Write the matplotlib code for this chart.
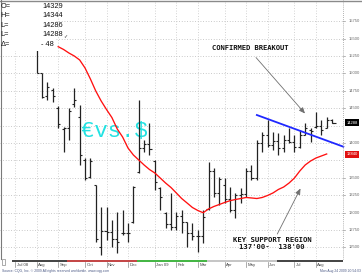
import matplotlib
matplotlib.use("Agg")
import matplotlib.pyplot as plt
from matplotlib.patches import Rectangle
from matplotlib.lines import Line2D

W, H = 362, 273

# ---------------- data (weekly EUR/USD x 10000) ----------------
bar_idx = list(range(-6, 56))
opens = [15550, 15780, 15610, 15950, 15830, 15700,
         15590, 15000, 14680, 14760, 14500, 14200, 14210, 14560, 14374, 13760,
         13510, 13390, 12500, 12740, 12725, 12620, 12700, 12710, 12860, 13580,
         13930, 13980, 13740, 13350, 12990, 12840, 12800, 12950, 12860, 12700,
         12670, 12660, 13050, 13600, 13280, 13400, 13200, 13030, 13250, 13270,
         13600, 13500, 14000, 14120, 13970, 14030, 13930, 14050, 14020, 13940,
         14120, 14180, 14230, 14240, 14220, 14329]
highs = [15800, 15900, 15980, 16040, 15860, 15720,
         15600, 15010, 14877, 14790, 14532, 14230, 14503, 14790, 14546, 13784,
         13784, 13396, 13080, 13080, 12893, 13008, 13037, 12850, 13382, 14618,
         14043, 14287, 13756, 13368, 13008, 13282, 13008, 13037, 12865, 12850,
         12750, 13037, 13727, 13641, 13511, 13497, 13368, 13282, 13353, 13641,
         13684, 14043, 14158, 14330, 14158, 14144, 14115, 14216, 14115, 14187,
         14287, 14216, 14445, 14330, 14374, 14344]
lows = [15520, 15620, 15600, 15770, 15650, 15510,
        15006, 14647, 14618, 14589, 14216, 13871, 14043, 14517, 13684, 13468,
        13497, 12577, 12390, 12606, 12506, 12420, 12678, 12577, 12850, 13569,
        13871, 13828, 13325, 13037, 12778, 12750, 12750, 12707, 12506, 12606,
        12434, 12563, 13037, 13224, 13109, 13138, 13008, 12922, 13138, 13224,
        13468, 13468, 13871, 13943, 13900, 13828, 13871, 14000, 13871, 13928,
        14115, 14014, 14216, 14115, 14216, 14286]
closes = [15780, 15610, 15950, 15830, 15700, 15590,
          15010, 14665, 14800, 14670, 14270, 14210, 14460, 14620, 13828, 13497,
          13740, 12620, 12740, 12725, 12620, 12580, 12707, 12700, 13370, 13930,
          13980, 13920, 13440, 13230, 12840, 12800, 12950, 12860, 12700, 12670,
          12660, 12930, 13600, 13280, 13480, 13200, 13030, 13250, 13270, 13600,
          13500, 14000, 14120, 13970, 14030, 13930, 14050, 14020, 13940, 14120,
          14220, 14170, 14240, 14190, 14330, 14288]

ma_idx = list(range(4, 55))
ma_vals = [15384, 15344, 15293, 15250, 15193, 15078, 14920, 14747, 14604, 14481,
           14366, 14201, 14086, 13928, 13828, 13756, 13684, 13619, 13569, 13497,
           13425, 13361, 13282, 13202, 13138, 13073, 13030, 12998, 13052, 13088,
           13116, 13145, 13171, 13188, 13202, 13217, 13210, 13202, 13217, 13246,
           13282, 13332, 13368, 13425, 13497, 13598, 13684, 13741, 13784, 13813,
           13842]

trend_idx = [41, 57.1]
trend_vals = [14402, 13947]

month_labels = ['Jul 08', 'Aug', 'Sep', 'Oct', 'Nov', 'Dec', 'Jan 09', 'Feb',
                'Mar', 'Apr', 'May', 'Jun', 'Jul', 'Aug']
month_bars = [-4, 0, 4, 9, 13, 17, 22, 26, 30, 35, 39, 43, 48, 52]

price_ticks = [12500, 12750, 13000, 13250, 13500, 14000, 14500, 14750,
               15000, 15250, 15500, 15750]
grid_levels = [12500, 12750, 13000, 13250, 13500, 13750, 14000, 14250,
               14500, 14750, 15000, 15250, 15500, 15750]

last_close = 14288
ma_last = 13840

ohlc_names = ['O=', 'H=', 'L=', 'L=', '\u0394=']
ohlc_texts = ['14329', '14344', '14286', '14288', '- 48']

# ---------------- figure ----------------
fig = plt.figure(figsize=(W / 100, H / 100), dpi=100)
fig.patch.set_facecolor('white')

def fx(px):
    return px / W

def fy(py):
    return 1 - py / H

ax_left, ax_right, ax_top, ax_bot = 0, 343, 2, 259
ax = fig.add_axes([fx(ax_left), fy(ax_bot), (ax_right - ax_left) / W, (ax_bot - ax_top) / H])
ax.set_xlim(-6.834, 57.04)
ax.set_ylim(12333, 16026)
ax.set_axis_off()

def px2data(px, py):
    return ax.transData.inverted().transform((px, H - py))

# grid
for lv in grid_levels:
    ax.axhline(lv, color='#b8b8b8', lw=0.6, ls=(0, (1, 2.2)), zorder=0)
for mb in month_bars:
    ax.axvline(mb, color='#c4c4c4', lw=0.6, ls=(0, (1, 2.2)), zorder=0)

# cyan text
ax.text(*px2data(81.5, 131.5), '\u20acvs.$', color='#22e2e2', fontsize=16.0,
        family=['Liberation Mono', 'DejaVu Sans Mono'], ha='left', va='center', zorder=1)

# OHLC bars
tick = 0.38
ax.vlines(bar_idx, lows, highs, color='#222222', lw=0.9, zorder=3)
ax.hlines(opens, [b - tick for b in bar_idx], bar_idx, color='#222222', lw=0.8, zorder=3)
ax.hlines(closes, bar_idx, [b + tick for b in bar_idx], color='#222222', lw=0.8, zorder=3)
# close line trailing on current bar
ax.hlines([closes[-1]], [bar_idx[-1]], [bar_idx[-1] + 0.7], color='#222222', lw=0.8, zorder=3)

# moving average
ax.plot(ma_idx, ma_vals, color='#ff1010', lw=0.95, zorder=4)

# trend line
ax.plot(trend_idx, trend_vals, color='#1f28ff', lw=1.3, zorder=4, clip_on=False)

# annotations
ann_font = ['DejaVu Sans Mono']
ax.text(*px2data(250, 47.5), 'CONFIRMED BREAKOUT', fontsize=5.1, family=ann_font,
        weight='bold', ha='center', va='center', color='#111111', zorder=6)
ax.annotate('', xy=px2data(305, 113.5), xytext=px2data(256, 57.5),
            arrowprops=dict(arrowstyle='-|>,head_length=0.35,head_width=0.15',
                            color='#707070', lw=0.6, shrinkA=0, shrinkB=0), zorder=6)
ax.text(*px2data(272, 240), 'KEY SUPPORT REGION', fontsize=5.2, family=ann_font,
        weight='bold', ha='center', va='center', color='#111111', zorder=6)
ax.text(*px2data(272, 246.8), "137'00-  138'00", fontsize=5.2, family=ann_font,
        weight='bold', ha='center', va='center', color='#111111', zorder=6)
ax.annotate('', xy=px2data(300.5, 188.5), xytext=px2data(277.3, 234),
            arrowprops=dict(arrowstyle='-|>,head_length=0.35,head_width=0.15',
                            color='#707070', lw=0.6, shrinkA=0, shrinkB=0), zorder=6)

# white panel behind OHLC readout
fig.patches.append(Rectangle((fx(0), fy(51)), fx(56.5), 51 / H, transform=fig.transFigure,
                             facecolor='white', edgecolor='none', zorder=1))
ohlc_font = ['Liberation Sans', 'DejaVu Sans']
rows_y = [6, 15.7, 25.4, 35, 44.7]
for nm, tx, ry in zip(ohlc_names, ohlc_texts, rows_y):
    fig.text(fx(0.5), fy(ry), nm, fontsize=5.3, family=ohlc_font, va='center', ha='left',
             color='#111111', zorder=3)
    if tx.startswith('-'):
        fig.text(fx(53.5), fy(ry), tx, fontsize=5.3, family=ohlc_font, va='center',
                 ha='right', color='#111111', zorder=3)
    else:
        fig.text(fx(42.7), fy(ry), tx, fontsize=5.3, family=ohlc_font, va='center',
                 ha='left', color='#111111', zorder=3)
fig.text(fx(62.8), fy(35.5), '\u2713', fontsize=3.6, family=['DejaVu Sans'], va='center',
         ha='left', color='#333333', zorder=3)

# borders
fig.lines.append(Line2D([0, 1], [fy(0.5), fy(0.5)], transform=fig.transFigure,
                        color='#8a8a8a', lw=1.0, zorder=3))
fig.lines.append(Line2D([fx(0.6), fx(0.6)], [fy(0), fy(259)], transform=fig.transFigure,
                        color='#7a7a7a', lw=0.8, zorder=3))
fig.lines.append(Line2D([fx(343), fx(343)], [fy(0), fy(259)], transform=fig.transFigure,
                        color='#9a9a9a', lw=0.6, ls=(0, (1, 1.5)), zorder=3))

# right price axis
ax_font = ['Liberation Sans', 'DejaVu Sans']
for p in price_ticks:
    yy = ax.transData.transform((0, p))[1] / H
    fig.lines.append(Line2D([fx(343), fx(345)], [yy, yy], transform=fig.transFigure,
                            color='#9a9a9a', lw=0.5))
    fig.text(fx(354), yy, f'{p}', fontsize=3.0, family=ax_font, ha='center', va='center',
             color='#6a6a6a')
yy = ax.transData.transform((0, last_close))[1] / H
fig.text(fx(352.3), yy, f'{last_close}', fontsize=3.0, family=ax_font, ha='center',
         va='center', color='white',
         bbox=dict(boxstyle='square,pad=0.35', facecolor='black', edgecolor='none'))
yy = ax.transData.transform((0, ma_last))[1] / H
fig.text(fx(352.3), yy, f'{ma_last}', fontsize=3.0, family=ax_font, ha='center',
         va='center', color='white',
         bbox=dict(boxstyle='square,pad=0.35', facecolor='#e01010', edgecolor='none'))

# bottom coloured strip
strip = [(12, 67, '#474747'), (67, 137, '#c44848'), (137, 207, '#46b646'),
         (207, 277, '#c6c6c6'), (277, 343, '#474747')]
for x0, x1, c in strip:
    fig.patches.append(Rectangle((fx(x0), fy(261.6)), (x1 - x0) / W, 1.8 / H,
                                 transform=fig.transFigure, facecolor=c, edgecolor='none'))
fig.patches.append(Rectangle((fx(1.5), fy(264.5)), 3.5 / W, 6 / H, transform=fig.transFigure,
                             facecolor='white', edgecolor='#8a8a8a', lw=0.5))

# month ticks and labels
for lab, mb in zip(month_labels, month_bars):
    xp = ax.transData.transform((mb, 0))[0]
    fig.lines.append(Line2D([xp / W, xp / W], [fy(261.5), fy(267)], transform=fig.transFigure,
                            color='#8a8a8a', lw=0.5))
    fig.text((xp + 1.5) / W, fy(264.6), lab, fontsize=3.1, family=ax_font, ha='left',
             va='center', color='#444444')

# footer
fig.text(fx(2), fy(270.6), 'Source: CQG, Inc. \u00a9 2009 All rights reserved worldwide. www.cqg.com',
         fontsize=2.45, family=ax_font, ha='left', va='center', color='#4c5a86')
fig.text(fx(360.5), fy(270.6), 'Mon Aug 24 2009 20:54:03', fontsize=2.45, family=ax_font,
         ha='right', va='center', color='#4c5a86')

fig.savefig('out.png', dpi=100, facecolor='white')
